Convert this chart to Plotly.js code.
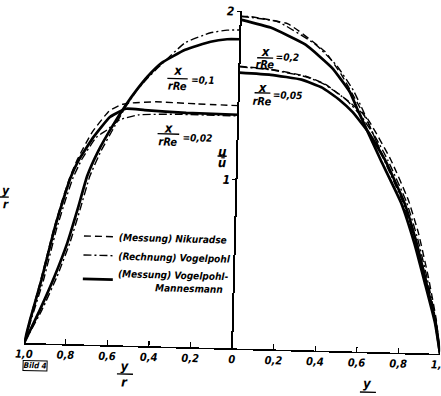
<!DOCTYPE html>
<html>
<head>
<meta charset="utf-8">
<script src="https://cdn.plot.ly/plotly-3.0.1.min.js"></script>
<style>
  html, body { margin:0; padding:0; background:#fff; overflow:hidden; width:441px; height:396px; }
  #chart { width:470px; height:396px; transform-origin:220px 198px; }
</style>
</head>
<body>
<div id="chart"></div>
<script>
// Axis ticks (y/r, left half drawn as negative positions)
const tickPos   = [-1, -0.8, -0.6, -0.4, -0.2, 0, 0.2, 0.4, 0.6, 0.8, 1];
const tickText  = ['1,0', '0,8', '0,6', '0,4', '0,2', '0', '0,2', '0,4', '0,6', '0,8', '1,0'];
const uTickPos  = [1, 2];
const uTickText = ['1', '2'];

// x/(r Re) = 0,1  (left half)
const yr_01_vm   = [-1, -0.928, -0.862, -0.805, -0.76, -0.718, -0.668, -0.603, -0.545, -0.49, -0.44, -0.374, -0.263, -0.142, -0.063, 0];
const u_01_vm    = [0, 0.2, 0.4, 0.6, 0.8, 1.0, 1.15, 1.3, 1.42, 1.52, 1.6, 1.683, 1.764, 1.816, 1.833, 1.835];
const yr_01_calc = [-1, -0.918, -0.85, -0.793, -0.748, -0.705, -0.655, -0.592, -0.54, -0.488, -0.44, -0.387, -0.264, -0.143, -0.064, 0];
const u_01_calc  = [0, 0.2, 0.4, 0.6, 0.8, 1.0, 1.15, 1.3, 1.42, 1.52, 1.59, 1.659, 1.806, 1.869, 1.887, 1.89];

// x/(r Re) = 0,02 (left half)
const yr_002_vm   = [-1, -0.975, -0.925, -0.87, -0.829, -0.797, -0.762, -0.692, -0.616, -0.54, -0.45, -0.25, 0];
const u_002_vm    = [0, 0.135, 0.375, 0.674, 0.86, 0.99, 1.09, 1.233, 1.354, 1.405, 1.40, 1.39, 1.387];
const yr_002_calc = [-1, -0.97, -0.915, -0.86, -0.818, -0.785, -0.745, -0.68, -0.629, -0.569, -0.477, -0.3, 0];
const u_002_calc  = [0, 0.135, 0.375, 0.674, 0.86, 0.99, 1.1, 1.23, 1.276, 1.338, 1.371, 1.38, 1.38];
const yr_002_nik  = [-1, -0.976, -0.928, -0.873, -0.833, -0.801, -0.766, -0.70, -0.62, -0.56, -0.51, -0.397, -0.2, 0];
const u_002_nik   = [0, 0.135, 0.375, 0.674, 0.86, 0.99, 1.1, 1.26, 1.39, 1.43, 1.441, 1.451, 1.445, 1.441];

// x/(r Re) = 0,2  (right half)
const yr_02_vm   = [0, 0.145, 0.315, 0.444, 0.533, 0.578, 0.69, 0.794, 0.863, 0.918, 0.972, 1];
const u_02_vm    = [1.952, 1.909, 1.813, 1.681, 1.541, 1.424, 1.142, 0.89, 0.651, 0.419, 0.183, 0];
const yr_02_calc = [0, 0.179, 0.364, 0.47, 0.55, 0.6, 0.70, 0.80, 0.868, 0.922, 0.974, 1];
const u_02_calc  = [1.972, 1.945, 1.815, 1.69, 1.55, 1.43, 1.16, 0.90, 0.66, 0.425, 0.185, 0];
const yr_02_nik  = [0, 0.045, 0.228, 0.409, 0.491, 0.56, 0.625, 0.71, 0.81, 0.873, 0.927, 0.976, 1];
const u_02_nik   = [1.97, 1.971, 1.934, 1.775, 1.641, 1.50, 1.36, 1.14, 0.89, 0.66, 0.425, 0.185, 0];

// x/(r Re) = 0,05 (right half)
const yr_005_vm   = [0, 0.151, 0.30, 0.40, 0.484, 0.55, 0.63, 0.712, 0.81, 0.872, 0.925, 0.975, 1];
const u_005_vm    = [1.637, 1.629, 1.605, 1.561, 1.492, 1.42, 1.30, 1.14, 0.89, 0.66, 0.42, 0.185, 0];
const yr_005_calc = [0, 0.151, 0.32, 0.414, 0.52, 0.59, 0.665, 0.725, 0.82, 0.878, 0.93, 0.977, 1];
const u_005_calc  = [1.672, 1.659, 1.623, 1.579, 1.49, 1.40, 1.27, 1.14, 0.895, 0.68, 0.44, 0.19, 0];
const yr_005_nik  = [0, 0.151, 0.32, 0.414, 0.534, 0.62, 0.739, 0.828, 0.881, 0.935, 0.978, 1];
const u_005_nik   = [1.675, 1.662, 1.626, 1.582, 1.479, 1.387, 1.144, 0.909, 0.714, 0.45, 0.2, 0];

const legNik  = '(Messung) Nikuradse';
const legCalc = '(Rechnung) Vogelpohl';
const legVM   = '(Messung) Vogelpohl-<br>\u00a0\u00a0\u00a0\u00a0\u00a0\u00a0\u00a0\u00a0\u00a0\u00a0\u00a0\u00a0Mannesmann';

const FONT = "'Liberation Sans Narrow', 'DejaVu Sans Condensed', 'Liberation Sans', sans-serif";
const styles = {
  nik:  {color:'#000', width:1.4, dash:'7px,4px'},
  calc: {color:'#000', width:1.4, dash:'8px,3px,2px,3px'},
  vm:   {color:'#000', width:2.7, dash:'solid'}
};
function tr(x, y, st, name, show, rank) {
  return {x:x, y:y, type:'scatter', mode:'lines', name:name, showlegend:show, legendrank:rank,
          line:Object.assign({shape:'spline', smoothing:0.4}, styles[st]), hoverinfo:'skip'};
}
const data = [
  tr(yr_002_nik, u_002_nik, 'nik', legNik, true, 1),
  tr(yr_02_nik, u_02_nik, 'nik', legNik, false, 1),
  tr(yr_005_nik, u_005_nik, 'nik', legNik, false, 1),
  tr(yr_01_calc, u_01_calc, 'calc', legCalc, true, 2),
  tr(yr_002_calc, u_002_calc, 'calc', legCalc, false, 2),
  tr(yr_02_calc, u_02_calc, 'calc', legCalc, false, 2),
  tr(yr_005_calc, u_005_calc, 'calc', legCalc, false, 2),
  tr(yr_01_vm, u_01_vm, 'vm', legVM, true, 3),
  tr(yr_002_vm, u_002_vm, 'vm', legVM, false, 3),
  tr(yr_02_vm, u_02_vm, 'vm', legVM, false, 3),
  tr(yr_005_vm, u_005_vm, 'vm', legVM, false, 3)
];

const annotations = [];
const shapes = [];
function txt(x, y, t, size, xanchor, xref, yref) {
  annotations.push({x:x, y:y, xref:xref||'x', yref:yref||'y', text:t, showarrow:false,
    xanchor:xanchor||'center', yanchor:'middle', font:{size:size||12}});
}
function bar(x0, x1, y, xref, yref) {
  shapes.push({type:'line', x0:x0, x1:x1, y0:y, y1:y, xref:xref||'x', yref:yref||'y',
    line:{color:'#000', width:1.3}});
}
// fraction labels x/(rRe)
function frac(cx, ux, ubar, ur, b0, b1, ex, eu, eq) {
  txt(cx, ux, 'x', 13); bar(b0, b1, ubar); txt(cx, ur, 'rRe', 11); txt(ex, eu, eq, 10, 'left');
}
frac(-0.295, 1.640, 1.592, 1.545, -0.345, -0.247, -0.24, 1.59, '=0,1');
frac(-0.336, 1.297, 1.262, 1.214, -0.385, -0.281, -0.276, 1.246, '=0,02');
frac(0.121, 1.764, 1.728, 1.687, 0.084, 0.161, 0.163, 1.735, '=0,2');
frac(0.115, 1.550, 1.520, 1.467, 0.076, 0.152, 0.156, 1.512, '=0,05');
// u / u-bar
txt(-0.073, 1.165, 'u', 13); bar(-0.094, -0.05, 1.139); txt(-0.073, 1.098, '\u016b', 13);
// bottom y/r labels
txt(0.244, -0.061, 'y', 13, 'center', 'paper', 'paper'); bar(0.225, 0.2635, -0.0845, 'paper', 'paper');
txt(0.244, -0.1085, 'r', 13, 'center', 'paper', 'paper');
txt(0.829, -0.0925, 'y', 13, 'center', 'paper', 'paper'); bar(0.81, 0.8485, -0.1195, 'paper', 'paper');
txt(0.829, -0.1425, 'r', 13, 'center', 'paper', 'paper');
// left edge fragment
txt(-0.052, 0.452, 'y', 12, 'center', 'paper', 'paper'); bar(-0.068, -0.046, 0.431, 'paper', 'paper');
txt(-0.054, 0.41, 'r', 12, 'center', 'paper', 'paper');
// figure tag
annotations.push({x:0.028, y:-0.068, xref:'paper', yref:'paper', text:'Bild 4', showarrow:false,
  font:{size:8}, bordercolor:'#000', borderwidth:1, borderpad:0, xanchor:'center', yanchor:'middle'});

const layout = {
  width:470, height:396,
  margin:{l:28, r:26, t:11, b:48},
  paper_bgcolor:'#fff', plot_bgcolor:'#fff',
  font:{family:FONT, size:12, color:'#000', style:'italic', weight:'bold'},
  showlegend:true,
  legend:{x:0.125, y:0.365, xanchor:'left', yanchor:'top', bgcolor:'rgba(0,0,0,0)',
          font:{size:10}, itemwidth:30, tracegroupgap:0},
  xaxis:{range:[-1, 1], showgrid:false, zeroline:false, showline:true, linecolor:'#000', linewidth:1.6,
         ticks:'inside', ticklen:5, tickwidth:1.2, tickcolor:'#000',
         tickmode:'array', tickvals:tickPos, ticktext:tickText, tickfont:{size:11}, fixedrange:true},
  yaxis:{range:[0, 2], showgrid:false, zeroline:false, showline:true, linecolor:'#000', linewidth:2,
         anchor:'free', position:0.5, ticks:'outside', ticklen:3, tickcolor:'#000',
         tickmode:'array', tickvals:uTickPos, ticktext:uTickText, tickfont:{size:12}, fixedrange:true},
  annotations:annotations,
  shapes:shapes
};
Plotly.newPlot('chart', data, layout, {displayModeBar:false, staticPlot:true}).then(function(){
  document.getElementById('chart').style.transform = 'rotate(1.5deg)';
});
</script>
</body>
</html>
